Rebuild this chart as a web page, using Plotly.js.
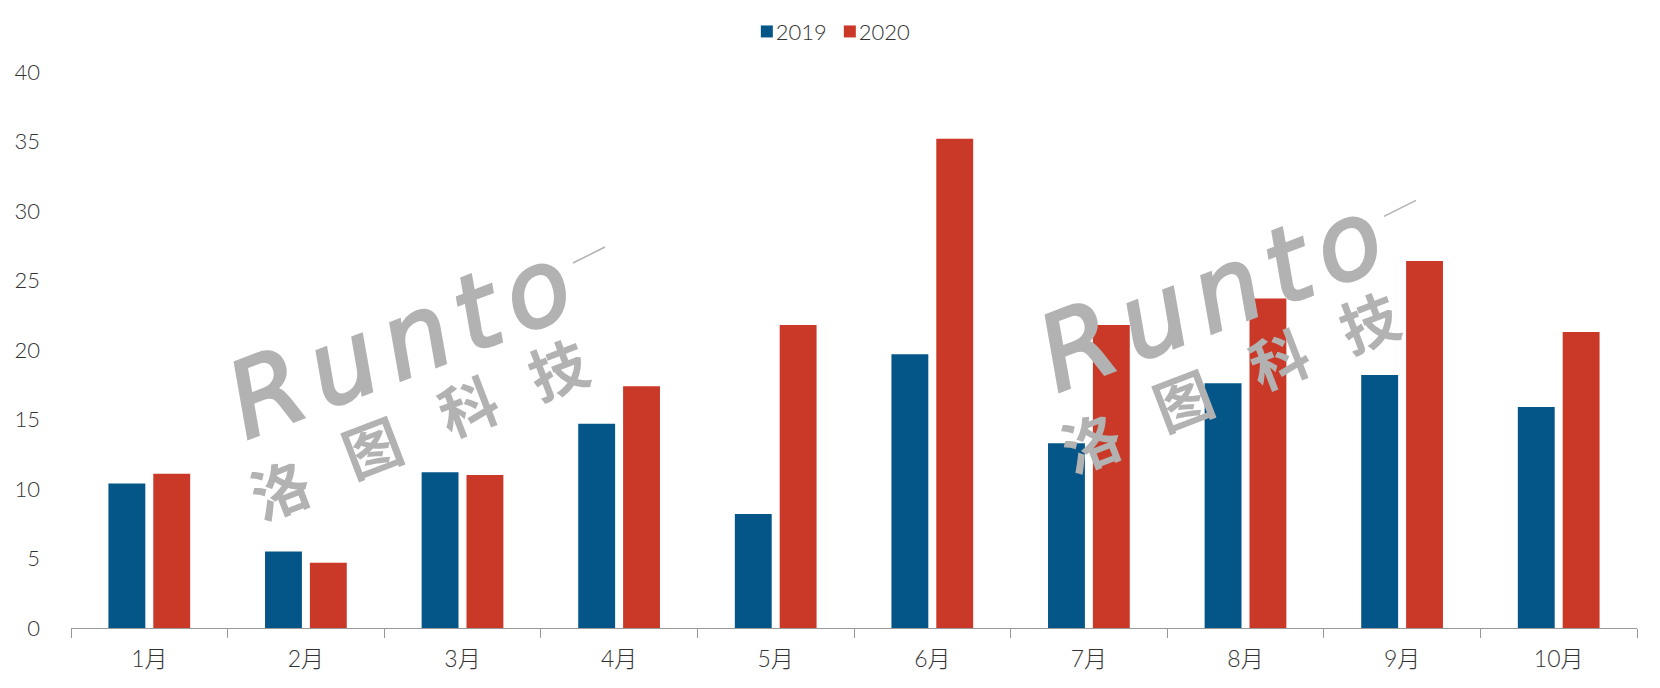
<!DOCTYPE html>
<html><head><meta charset="utf-8">
<script src="https://cdn.plot.ly/plotly-3.0.0.min.js"></script>
<style>html,body{margin:0;padding:0;background:#fff}#c{width:1660px;height:688px}
.annotation-text{letter-spacing:12px}
.annotation-text tspan{stroke:#b2b2b2;stroke-width:3px}</style>
</head><body><div id="c"></div>
<script>
const categories=['1月','2月','3月','4月','5月','6月','7月','8月','9月','10月'];
const values2019=[10.4,5.5,11.2,14.7,8.2,19.7,13.3,17.6,18.2,15.9];
const values2020=[11.1,4.7,11.0,17.4,21.8,35.2,21.8,23.7,26.4,21.3];
const yTicks=[0,5,10,15,20,25,30,35,40];
const FONT='Lato,"Noto Sans CJK SC","Noto Sans",sans-serif';
const CJK='"Noto Sans CJK SC",sans-serif';
const W=1660,H=688,L=71,R=23,T=72,B=60;
const PW=W-L-R,PH=H-T-B;
const GREY='#b2b2b2',TXT='#333333';
function px(x,y){return {xref:'paper',yref:'paper',x:(x-L)/PW,y:(H-B-y)/PH};}
const chars=[['洛',285,485],['图',377,443],['科',473,402],['技',563,365]];
function mark(dx,dy){
  const a=[Object.assign(px(405+dx,340+dy),{text:'<i>Runto</i>',showarrow:false,textangle:-21,
    font:{family:'"DejaVu Sans",sans-serif',size:104,color:GREY},xanchor:'center',yanchor:'middle'})];
  chars.forEach(c=>a.push(Object.assign(px(c[1]+dx,c[2]+dy),{text:c[0],showarrow:false,textangle:-21,
    font:{family:CJK,size:58,weight:700,color:GREY},xanchor:'center',yanchor:'middle'})));
  return a;
}
function tail(dx,dy){
  const p=px(573+dx,263+dy),q=px(605+dx,247+dy);
  return {type:'line',xref:'paper',yref:'paper',x0:p.x,y0:p.y,x1:q.x,y1:q.y,line:{color:GREY,width:1.5},layer:'above'};
}
const data=[
 {type:'bar',name:'2019',x:categories,y:values2019,marker:{color:'#055688'},hoverinfo:'x+y'},
 {type:'bar',name:'2020',x:categories,y:values2020,marker:{color:'#ca3927'},hoverinfo:'x+y'}
];
const layout={
 width:W,height:H,paper_bgcolor:'#fff',plot_bgcolor:'#fff',
 margin:{l:L,r:R,t:T,b:B,pad:0,autoexpand:false},
 barmode:'group',bargap:0.427,bargroupgap:0.178,
 font:{family:FONT,color:TXT,size:22},
 showlegend:true,
 legend:{orientation:'h',xref:'container',yref:'container',xanchor:'left',yanchor:'middle',x:0.4499,y:0.954,font:{family:FONT,size:22,weight:300,color:TXT},itemwidth:30,entrywidth:38,entrywidthmode:'pixels',traceorder:'normal',itemclick:false},
 xaxis:{type:'category',tickson:'boundaries',ticks:'outside',ticklen:9,tickwidth:1,tickcolor:'#999',showline:true,linecolor:'#999',linewidth:1,showgrid:false,zeroline:false,ticklabelstandoff:10,tickfont:{family:FONT,size:23,weight:300,color:TXT}},
 yaxis:{range:[0,40],tickvals:yTicks,ticktext:yTicks.map(String),showgrid:false,zeroline:false,showline:false,ticks:'',ticklabelstandoff:30,tickfont:{family:FONT,size:22,weight:300,color:TXT}},
 annotations:mark(0,0).concat(mark(811,-46.7)),
 shapes:[tail(0,0),tail(811,-46.7)]
};
const gd=document.getElementById('c');
function tightenLegend(){
  gd.querySelectorAll('.legend text.legendtext').forEach(t=>{
    if(!t.dataset.moved){t.setAttribute('x',parseFloat(t.getAttribute('x'))-11);t.dataset.moved='1';}
  });
  const s=gd.querySelector('.legend .scrollbox');
  if(s)s.removeAttribute('clip-path');
}
Plotly.newPlot(gd,data,layout,{displayModeBar:false}).then(()=>{tightenLegend();});
</script></body></html>
